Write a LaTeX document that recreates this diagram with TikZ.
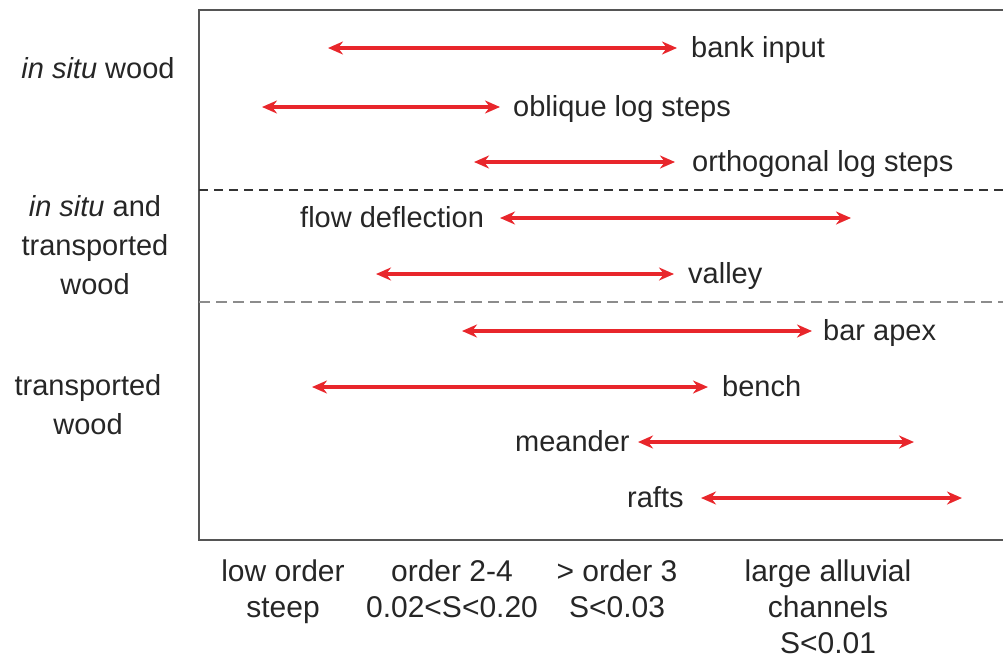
\documentclass[tikz,border=0pt]{standalone}
\usepackage{fontspec}
\setmainfont{Liberation Sans}
\usetikzlibrary{arrows.meta}
\definecolor{arrred}{HTML}{E8262B}
\definecolor{framegray}{HTML}{555555}
\definecolor{dashgray}{HTML}{8C8C8C}
\tikzset{
  lbl/.style={anchor=west, inner sep=0pt, font=\fontsize{29}{36}\selectfont, text=black!85, text height=20pt, text depth=6pt},
  side/.style={align=center, inner sep=0pt, font=\fontsize{29}{39}\selectfont, text=black!85},
  bot/.style={align=center, inner sep=0pt, anchor=north, font=\fontsize{30}{36}\selectfont, text=black!85},
  rng/.style={draw=arrred, line width=3.6pt, {Stealth[length=15pt,width=13pt]}-{Stealth[length=15pt,width=13pt]}},
}
\begin{document}
\begin{tikzpicture}[x=1pt,y=-1pt]
\useasboundingbox (0,0) rectangle (1003,662);
% frame
\draw[framegray, line width=2pt] (1003,10) -- (199,10) -- (199,540) -- (1003,540);
\draw[black!80, line width=1.6pt, dash pattern=on 9pt off 6pt] (199,190) -- (1003,190);
\draw[dashgray, line width=2.4pt, dash pattern=on 11pt off 6pt] (199,302) -- (1003,302);
% left labels
\node[side] (insitu) at (98,68) {\textit{in situ} wood};
\node[side] (both) at (95,245) {\textit{in situ} and\\transported\\wood};
\node[side] (transp) at (88,405) {transported\\wood};
% bottom labels
\node[bot] (c1) at (283,560) {low order\\steep};
\node[bot] (c2) at (452,560) {order 2-4\\0.02<S<0.20};
\node[bot] (c3) at (617,560) {> order 3\\S<0.03};
\node[bot] (c4) at (828,560) {large alluvial\\channels\\S<0.01};
% ranges
\coordinate (a1) at (328,48); \coordinate (b1) at (677,48);
\node[lbl] (l1) at (691,50) {bank input};
\coordinate (a2) at (262,107); \coordinate (b2) at (500,107);
\node[lbl] (l2) at (513,109) {oblique log steps};
\coordinate (a3) at (474,162); \coordinate (b3) at (675,162);
\node[lbl] (l3) at (692,164) {orthogonal log steps};
\node[lbl] (l4) at (300,220) {flow deflection};
\coordinate (a4) at (500,218); \coordinate (b4) at (851,218);
\coordinate (a5) at (376,274); \coordinate (b5) at (674,274);
\node[lbl] (l5) at (688,276) {valley};
\coordinate (a6) at (462,331); \coordinate (b6) at (812,331);
\node[lbl] (l6) at (823,333) {bar apex};
\coordinate (a7) at (312,387); \coordinate (b7) at (708,387);
\node[lbl] (l7) at (722,389) {bench};
\node[lbl] (l8) at (515,444) {meander};
\coordinate (a8) at (638,442); \coordinate (b8) at (914,442);
\node[lbl] (l9) at (627,500) {rafts};
\coordinate (a9) at (701,498); \coordinate (b9) at (962,498);
\foreach \i in {1,...,9} \draw[rng] (a\i) -- (b\i);
\end{tikzpicture}
\end{document}
